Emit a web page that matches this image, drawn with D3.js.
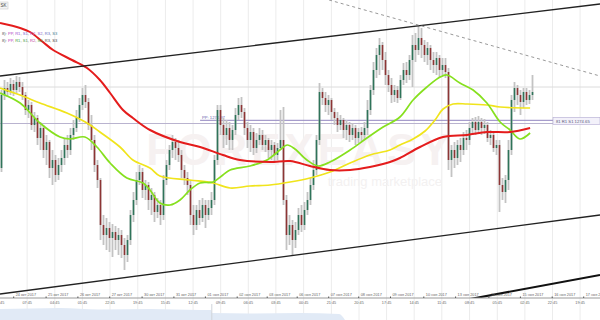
<!DOCTYPE html>
<html><head><meta charset="utf-8">
<script src="https://cdn.jsdelivr.net/npm/d3@7"></script>
<style>html,body{margin:0;padding:0;background:#fff;overflow:hidden}svg{display:block;font-family:"Liberation Sans",Arial,sans-serif}</style>
</head><body><svg id="c" width="600" height="320"></svg>
<script>
// ---- data (price per 2h bar) ----
const opens=[1270.2,1277.5,1278.2,1277.8,1278.6,1278.0,1278.8,1278.3,1277.5,1276.0,
1276.5,1274.5,1275.2,1273.2,1274.2,1272.0,1272.8,1270.2,1271.0,1269.5,
1270.5,1271.2,1272.5,1272.0,1273.5,1274.2,1275.2,1276.5,1277.5,1276.8,
1274.5,1273.0,1270.5,1269.0,1264.5,1263.5,1264.2,1263.2,1263.8,1263.0,
1263.5,1262.5,1261.5,1263.0,1265.5,1267.0,1269.0,1269.8,1268.0,1268.5,
1267.0,1267.5,1265.8,1266.5,1265.5,1269.0,1270.5,1272.0,1272.8,1272.2,
1271.5,1270.0,1269.2,1268.5,1265.5,1264.5,1266.0,1265.2,1266.5,1265.5,
1266.2,1267.0,1271.0,1276.0,1274.5,1273.5,1274.2,1273.0,1274.0,1275.5,
1276.5,1275.8,1274.2,1273.0,1273.8,1272.2,1273.0,1273.5,1272.5,1273.0,
1272.0,1272.5,1271.5,1272.2,1273.0,1267.0,1263.5,1264.5,1263.0,1264.0,
1265.5,1264.5,1266.0,1267.0,1268.5,1270.0,1273.0,1277.8,1277.2,1276.5,
1277.0,1275.8,1275.2,1274.5,1275.0,1274.0,1274.5,1273.5,1274.2,1273.2,
1273.8,1273.5,1274.2,1276.0,1278.0,1280.0,1281.5,1282.5,1281.0,1279.5,
1278.5,1277.5,1278.0,1277.2,1279.0,1280.0,1279.5,1281.0,1282.5,1282.0,
1283.2,1282.5,1281.5,1282.2,1281.0,1280.5,1281.2,1280.0,1280.5,1279.8,
1271.0,1272.0,1271.2,1272.5,1272.0,1273.2,1273.0,1274.2,1274.8,1274.0,
1274.8,1274.2,1274.5,1273.2,1273.5,1272.2,1272.5,1268.5,1267.8,1269.0,
1272.0,1277.0,1278.2,1277.5,1276.8,1277.8,1277.0,1277.5];
const highs=[1278.0,1279.0,1278.8,1279.2,1279.0,1279.4,1279.3,1278.8,1277.8,1277.0,
1276.8,1275.8,1275.5,1274.8,1274.5,1273.5,1273.0,1272.0,1271.5,1271.2,
1272.0,1273.2,1273.5,1274.2,1275.0,1276.0,1277.2,1278.2,1278.5,1277.2,
1275.5,1273.5,1271.0,1269.2,1265.5,1265.2,1264.8,1264.6,1264.4,1264.2,
1264.0,1263.2,1263.5,1266.0,1267.8,1269.8,1270.5,1270.2,1269.0,1268.8,
1268.2,1267.8,1267.2,1267.0,1269.5,1271.0,1272.5,1273.5,1273.2,1273.0,
1272.0,1270.5,1269.8,1269.0,1266.5,1266.5,1267.0,1267.2,1267.0,1267.0,
1267.8,1271.5,1276.5,1276.5,1275.2,1275.0,1274.8,1274.5,1276.2,1277.2,
1277.3,1276.2,1274.8,1274.5,1274.2,1273.7,1274.2,1274.0,1273.5,1273.2,
1273.0,1272.8,1272.7,1276.0,1276.3,1267.5,1265.5,1265.0,1264.8,1266.2,
1266.5,1266.8,1267.8,1269.2,1271.0,1273.5,1278.7,1278.2,1277.8,1277.5,
1277.2,1276.2,1275.8,1275.5,1275.2,1275.0,1274.8,1274.7,1274.5,1274.2,
1274.3,1274.8,1277.0,1278.5,1280.8,1282.2,1283.2,1282.8,1281.8,1280.0,
1279.2,1278.5,1278.4,1279.5,1280.7,1280.8,1281.5,1283.5,1283.7,1284.5,
1284.2,1283.0,1282.8,1282.5,1281.8,1281.8,1281.5,1281.2,1281.2,1280.2,
1272.5,1272.8,1273.0,1273.2,1273.8,1274.0,1274.8,1275.2,1275.3,1275.4,
1275.2,1275.1,1274.8,1274.0,1273.8,1273.0,1273.0,1269.2,1269.5,1273.0,
1277.5,1278.8,1278.5,1278.0,1278.2,1278.2,1278.0,1279.5];
const lows=[1269.8,1277.0,1277.3,1277.5,1277.4,1277.6,1277.8,1277.0,1275.5,1275.2,
1274.0,1273.8,1272.5,1272.0,1271.2,1270.5,1269.2,1268.5,1268.8,1269.0,
1269.8,1270.5,1271.2,1271.5,1273.0,1273.8,1274.8,1276.0,1276.2,1274.0,
1272.0,1269.8,1268.2,1263.0,1262.5,1262.0,1261.8,1261.3,1262.0,1261.5,
1261.2,1260.0,1260.8,1262.5,1264.8,1266.5,1268.5,1267.2,1267.0,1266.0,
1265.5,1264.8,1265.2,1264.5,1265.0,1268.5,1270.0,1271.2,1271.0,1270.8,
1269.2,1268.5,1267.5,1264.5,1263.5,1264.0,1264.5,1264.8,1264.2,1265.0,
1265.5,1266.5,1270.5,1273.5,1272.2,1272.5,1272.0,1272.0,1273.5,1275.0,
1275.2,1273.5,1272.2,1271.8,1271.5,1271.7,1272.5,1272.0,1271.8,1271.2,
1271.0,1270.8,1271.0,1272.0,1266.5,1262.0,1262.5,1261.5,1262.2,1263.5,
1263.8,1264.0,1265.5,1266.5,1268.0,1269.5,1272.5,1276.5,1275.8,1275.5,
1275.0,1274.5,1273.8,1274.0,1273.2,1273.0,1272.8,1273.0,1272.5,1272.7,
1272.8,1273.0,1273.5,1275.5,1277.5,1279.2,1279.5,1280.0,1278.5,1277.8,
1276.7,1276.8,1276.7,1277.0,1278.5,1278.7,1279.0,1278.3,1280.8,1281.5,
1281.2,1280.8,1280.5,1280.0,1279.7,1279.5,1279.3,1279.5,1279.2,1270.0,
1269.3,1270.2,1270.5,1270.8,1271.5,1272.0,1272.5,1273.5,1273.5,1273.7,
1273.5,1273.6,1272.8,1272.5,1271.8,1271.5,1265.8,1267.0,1266.7,1268.0,
1271.5,1275.8,1276.5,1275.5,1276.2,1276.5,1276.6,1277.0];
const closes=[1277.5,1278.2,1277.8,1278.6,1278.0,1278.8,1278.3,1277.5,1276.0,1276.5,
1274.5,1275.2,1273.2,1274.2,1272.0,1272.8,1270.2,1271.0,1269.5,1270.5,
1271.2,1272.5,1272.0,1273.5,1274.2,1275.2,1276.5,1277.5,1276.8,1274.5,
1273.0,1270.5,1269.0,1264.5,1263.5,1264.2,1263.2,1263.8,1263.0,1263.5,
1262.5,1261.5,1263.0,1265.5,1267.0,1269.0,1269.8,1268.0,1268.5,1267.0,
1267.5,1265.8,1266.5,1265.5,1269.0,1270.5,1272.0,1272.8,1272.2,1271.5,
1270.0,1269.2,1268.5,1265.5,1264.5,1266.0,1265.2,1266.5,1265.5,1266.2,
1267.0,1271.0,1276.0,1274.5,1273.5,1274.2,1273.0,1274.0,1275.5,1276.5,
1275.8,1274.2,1273.0,1273.8,1272.2,1273.0,1273.5,1272.5,1273.0,1272.0,
1272.5,1271.5,1272.2,1273.0,1267.0,1263.5,1264.5,1263.0,1264.0,1265.5,
1264.5,1266.0,1267.0,1268.5,1270.0,1273.0,1277.8,1277.2,1276.5,1277.0,
1275.8,1275.2,1274.5,1275.0,1274.0,1274.5,1273.5,1274.2,1273.2,1273.8,
1273.5,1274.2,1276.0,1278.0,1280.0,1281.5,1282.5,1281.0,1279.5,1278.5,
1277.5,1278.0,1277.2,1279.0,1280.0,1279.5,1281.0,1282.5,1282.0,1283.2,
1282.5,1281.5,1282.2,1281.0,1280.5,1281.2,1280.0,1280.5,1279.8,1271.0,
1272.0,1271.2,1272.5,1272.0,1273.2,1273.0,1274.2,1274.8,1274.0,1274.8,
1274.2,1274.5,1273.2,1273.5,1272.2,1272.5,1268.5,1267.8,1269.0,1272.0,
1277.0,1278.2,1277.5,1276.8,1277.8,1277.0,1277.5,1277.8];

// moving averages (bar index, price)
const redIdx=[0,6.7,10,14.3,17.7,24,29,33.3,36.7,41,44.3,50,60,66.7,74.3,80,90,96.7,103.3,110,116.7,123.3,130,133.3,140,147.7,155.7,162.3,170,176.7];
const redVal=[1284.7,1284.2,1283.8,1282.8,1282.0,1281.0,1280.2,1279.0,1277.7,1276.0,1275.2,1274.0,1272.8,1272.3,1271.5,1271.0,1270.8,1270.9,1270.4,1270.0,1270.0,1270.3,1270.8,1271.2,1272.3,1273.3,1273.5,1273.8,1273.8,1274.2];
const yellowIdx=[0,6.7,13.3,22.3,29,33.3,40,44.3,50,53.3,63.3,71,76.7,83.3,90,96.7,103.3,110,116.7,123.3,130,133.3,137.7,141.7,145,147.7,151,155.7,162.3,166.7,176.7];
const yellowVal=[1278.2,1277.5,1276.7,1275.7,1274.7,1273.8,1272.3,1271.0,1270.2,1269.4,1269.0,1268.7,1268.2,1268.4,1268.5,1268.8,1269.2,1269.8,1270.7,1271.5,1272.0,1272.5,1273.1,1273.9,1275.0,1276.1,1276.6,1276.6,1276.5,1276.3,1276.2];
const greenIdx=[0,6.7,13.3,20,23.3,28.3,32.3,36.7,42.3,47.7,50,53.3,56.7,60,63.3,66.7,71,74.3,76.7,83.3,89,93.3,95.7,98.3,102.3,106,110,116.7,122.3,127.7,133.3,137.7,142.3,146.7,149,153.3,157.7,162.3,166.7,170,173.3,176.7];
const greenVal=[1277.7,1276.7,1274.7,1273.3,1273.1,1273.3,1272.3,1270.7,1269.2,1268.7,1268.0,1266.7,1266.5,1267.0,1268.0,1268.7,1268.8,1269.5,1270.0,1270.4,1271.0,1272.0,1272.5,1272.1,1271.0,1270.4,1270.8,1272.0,1273.2,1274.3,1275.3,1277.0,1278.3,1279.3,1279.5,1278.7,1278.0,1276.7,1274.8,1274.0,1273.1,1273.7];

// trend lines: [bar index, price]
const channelTop=[[0,1279.4],[200,1286.6]];
const channelBottom=[[0,1257.6],[200,1265.5]];
const supportLine=[[156.7,1257.1],[200,1259.5]];
const dashedLine=[[109.7,1287.0],[200,1279.4]];

// horizontal levels
const pivotPP=1274.97, pivotS=1274.65, gridLevel=1278.3;

// axis labels
const dateLabels=["24 окт 2017","25 окт 2017","26 окт 2017","27 окт 2017","30 окт 2017","31 окт 2017","01 ноя 2017","02 ноя 2017","03 ноя 2017","06 ноя 2017","07 ноя 2017","08 ноя 2017","09 ноя 2017","10 ноя 2017","13 ноя 2017","14 ноя 2017","15 ноя 2017","16 ноя 2017","17 ноя 2017"];
const dateIdx=[4.4,15.2,25.8,36.4,47.2,57.8,68.3,78.9,88.9,98.9,109.4,119.4,130.0,141.1,151.7,162.8,173.3,183.9,194.4];
const timeLabels=["10:45","07:45","04:45","01:45","22:45","19:45","15:45","12:45","09:45","06:45","03:45","00:45","21:45","20:45","17:45","14:45","11:45","08:45","05:45","02:45","22:45","19:45"];
const timeIdx=[-0.33,8.88,18.1,27.3,36.5,45.75,54.97,64.2,73.4,82.6,91.8,101.05,110.3,119.5,128.7,137.9,147.1,156.35,165.6,174.8,184,193.2];

// navigator
const navIdx=[0,10,20,33,50,66.7,70.3,70.7,83,100,113,115];
const navVal=[11,11.5,12,10.5,11,10,10,7,6.5,7,6,0];

// ---- drawing ----
const svg=d3.select("#c");
const x=d3.scaleLinear().domain([0,200]).range([0,600]);
const y=d3.scaleLinear().domain([1287,1257]).range([0,300]);
const ny=d3.scaleLinear().domain([0,15]).range([320,305]);
const axisY=298;

svg.append("rect").attr("width",600).attr("height",320).attr("fill","#fff");
svg.append("defs").append("clipPath").attr("id","plot").append("rect").attr("width",600).attr("height",axisY);

// vertical grid
svg.append("g").selectAll("line").data(timeIdx).join("line")
 .attr("x1",d=>x(d)+0.5).attr("x2",d=>x(d)+0.5).attr("y1",0).attr("y2",320)
 .attr("stroke","#ececec").attr("stroke-width",1);

// watermark
svg.append("text").attr("x",300).attr("y",165).attr("text-anchor","middle")
 .attr("font-size",44).attr("font-weight","bold").attr("fill","#f6f1f1").attr("letter-spacing",4).text("FOREXEASY");
svg.append("text").attr("x",442).attr("y",186).attr("text-anchor","end")
 .attr("font-size",13).attr("fill","#f3f1f1").text("trading marketplace");

// navigator area
svg.append("path").datum(navIdx.map((d,i)=>[d,navVal[i]]))
 .attr("d",d3.area().x(d=>x(d[0])).y0(320).y1(d=>ny(d[1])).curve(d3.curveMonotoneX))
 .attr("fill","#e1eaf6");
svg.append("line").attr("x1",x(70.6)).attr("x2",x(70.6)).attr("y1",304).attr("y2",320).attr("stroke","#d0d4da");

// horizontal levels
svg.append("line").attr("x1",0).attr("x2",600).attr("y1",y(gridLevel)).attr("y2",y(gridLevel)).attr("stroke","#dcdcdc");
svg.append("line").attr("x1",0).attr("x2",600).attr("y1",y(pivotS)).attr("y2",y(pivotS)).attr("stroke","#b9b3cf").attr("stroke-width",1);
svg.append("line").attr("x1",x(66.7)).attr("x2",600).attr("y1",y(pivotPP)).attr("y2",y(pivotPP)).attr("stroke","#9185c0").attr("stroke-width",1);
svg.append("text").attr("x",x(67.3)).attr("y",y(pivotPP)-1.5).attr("font-size",4.2).attr("fill","#6d5fae").text("PP: "+pivotPP);

// candles
const bars=d3.range(opens.length).map(i=>({i,o:opens[i],h:highs[i],l:lows[i],c:closes[i]}));
const cg=svg.append("g").attr("clip-path","url(#plot)");
cg.selectAll("line.w").data(bars).join("line").attr("class","w")
 .attr("x1",d=>x(d.i+0.5)).attr("x2",d=>x(d.i+0.5)).attr("y1",d=>y(d.h)).attr("y2",d=>y(d.l))
 .attr("stroke","#c3c3c3").attr("stroke-width",1.8);
cg.selectAll("rect.b").data(bars).join("rect").attr("class","b")
 .attr("x",d=>x(d.i+0.5)-0.8).attr("width",1.6)
 .attr("y",d=>y(Math.max(d.o,d.c))).attr("height",d=>Math.max(1,Math.abs(y(d.o)-y(d.c))))
 .attr("fill",d=>d.c>=d.o?"#2f745a":"#8d3535");

// moving averages
const ma=d3.line().x(d=>x(d[0])).y(d=>y(d[1])).curve(d3.curveCatmullRom.alpha(0.5));
cg.append("path").attr("d",ma(yellowIdx.map((d,i)=>[d,yellowVal[i]]))).attr("fill","none").attr("stroke","#f0e41c").attr("stroke-width",1.7);
cg.append("path").attr("d",ma(greenIdx.map((d,i)=>[d,greenVal[i]]))).attr("fill","none").attr("stroke","#86e01e").attr("stroke-width",1.7);
cg.append("path").attr("d",ma(redIdx.map((d,i)=>[d,redVal[i]]))).attr("fill","none").attr("stroke","#e41c1c").attr("stroke-width",2);

// trend lines
const tl=d3.line().x(d=>x(d[0])).y(d=>y(d[1]));
cg.append("path").attr("d",tl(channelTop)).attr("stroke","#222").attr("stroke-width",1.3).attr("fill","none");
cg.append("path").attr("d",tl(channelBottom)).attr("stroke","#222").attr("stroke-width",1.3).attr("fill","none");
cg.append("path").attr("d",tl(supportLine)).attr("stroke","#111").attr("stroke-width",2.2).attr("fill","none");
cg.append("path").attr("d",tl(dashedLine)).attr("stroke","#999").attr("stroke-width",1).attr("stroke-dasharray","3,3").attr("fill","none");

// right level label
const lb=svg.append("g");
lb.append("rect").attr("x",553).attr("y",y(pivotPP)-3).attr("width",47).attr("height",7).attr("fill","#f3f1fa").attr("stroke","#b3abd2").attr("stroke-width",0.6);
lb.append("text").attr("x",556).attr("y",y(pivotPP)+2.2).attr("font-size",4.2).attr("fill","#5a5a7a").text("81 R1 S1 1274.65");

// x axis
const ax=svg.append("g").attr("transform",`translate(0,${axisY})`);
ax.append("line").attr("x1",0).attr("x2",600).attr("stroke","#9a9a9a");
const topAx=ax.append("g").call(d3.axisTop(x).tickValues(dateIdx).tickFormat((d,i)=>dateLabels[i]).tickSize(1.5).tickPadding(1));
topAx.select(".domain").remove();
topAx.selectAll("line").attr("stroke","#555");
topAx.selectAll("text").attr("text-anchor","start").attr("dx",2).attr("font-size",3.8).attr("fill","#666").attr("font-family","Liberation Sans, Arial, sans-serif");
const botAx=ax.append("g").call(d3.axisBottom(x).tickValues(timeIdx).tickFormat((d,i)=>timeLabels[i]).tickSize(0).tickPadding(3));
botAx.select(".domain").remove();
botAx.selectAll("text").attr("font-size",3.8).attr("fill","#666").attr("font-family","Liberation Sans, Arial, sans-serif");

// top-left labels
svg.append("rect").attr("x",-1).attr("y",2).attr("width",9).attr("height",7).attr("fill","#f4f4f4").attr("stroke","#ccc").attr("stroke-width",0.6);
svg.append("text").attr("x",0.5).attr("y",7.3).attr("font-size",4.5).attr("fill","#444").text("SK");

const leg1=[["8): ","#555"],["PP","#b23fc0"],[", ","#555"],["R1","#9b4fd0"],[", ","#555"],["S1","#7d5fd0"],[", ","#555"],["R2","#b45cc8"],[", ","#555"],["S2","#8e5ed0"],[", ","#555"],["R3","#6a6ec0"],[", ","#555"],["S3","#3f7f92"]];
const leg2=[["8): ","#555"],["PP","#c03cc0"],[", ","#555"],["R1","#3fa040"],[", ","#555"],["S1","#4f9c50"],[", ","#555"],["R2","#c0409e"],[", ","#555"],["S2","#46b046"],[", ","#555"],["R3","#555"],[", ","#555"],["S3","#444"]];
[[leg1,35],[leg2,41.5]].forEach(([parts,yy])=>{
  const t=svg.append("text").attr("x",2).attr("y",yy).attr("font-size",4.1);
  t.selectAll("tspan").data(parts).join("tspan").attr("fill",d=>d[1]).text(d=>d[0]);
});
</script></body></html>
